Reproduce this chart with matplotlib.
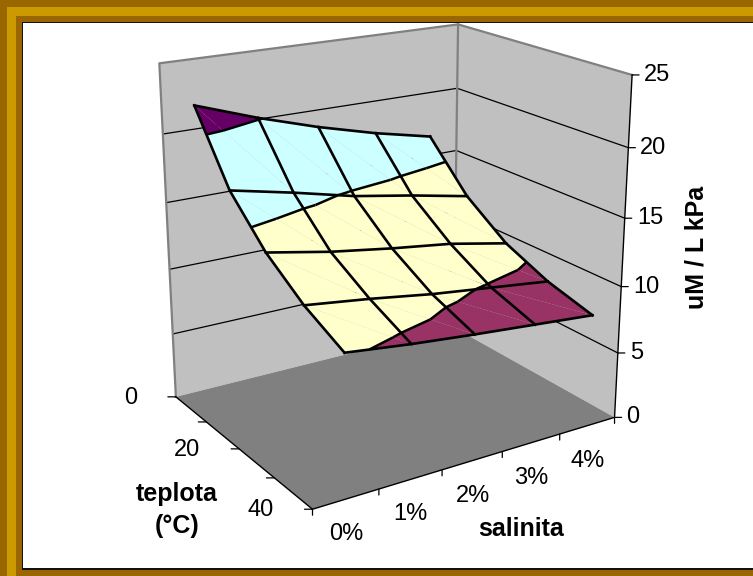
import numpy as np
import matplotlib
matplotlib.use('Agg')
import matplotlib.pyplot as plt
from matplotlib.patches import Rectangle
from mpl_toolkits.mplot3d import proj3d
from mpl_toolkits.mplot3d.art3d import Poly3DCollection, Line3DCollection

plt.rcParams['font.family'] = ['Liberation Sans', 'DejaVu Sans']

# salinity in %, temperature in deg C, uM / L kPa
salinity = [0, 1, 2, 3, 4]
salinity_labels = ['0%', '1%', '2%', '3%', '4%']
temperature = [0, 10, 20, 30, 40]
temperature_labels = ['0', '', '20', '', '40']
values = [
    [21.7, 20.1, 18.7, 17.5, 16.5],
    [16.8, 15.8, 14.7, 13.9, 13.0],
    [13.8, 12.9, 12.2, 11.6, 10.7],
    [11.7, 11.1, 10.4, 9.85, 9.3],
    [10.2, 9.65, 9.2, 8.8, 8.4],
]
z_ticks = [0, 5, 10, 15, 20, 25]
band_colors = {(5, 10): '#993366', (10, 15): '#FFFFCC', (15, 20): '#CCFFFF', (20, 25): '#660066'}

W, H = 753, 576
fig = plt.figure(figsize=(W / 100, H / 100), dpi=100, facecolor='#996600')


def frame_rect(x0, y0, x1, y1, color):
    fig.patches.append(Rectangle((x0 / W, 1 - y1 / H), (x1 - x0) / W, (y1 - y0) / H,
                                 transform=fig.transFigure, facecolor=color, edgecolor='none'))


# picture frame, the right side is cut off in the original
frame_rect(7, 7, W, 576, '#CC9900')
frame_rect(16, 16, W, 576, '#996600')
frame_rect(22, 22, W, 570, '#111111')
frame_rect(23, 23, W, 568, 'white')

ax = fig.add_axes([0, 0, 561 / W, 561 / H], projection='3d', computed_zorder=False)
ax.set_zorder(5)
ax.set_axis_off()
ax.patch.set_visible(False)
x0, x1 = salinity[0] - 0.5, salinity[-1] + 0.5
t0, t1 = temperature[0], temperature[-1]
z0, z1 = z_ticks[0], z_ticks[-1]
ax.set_xlim(x0, x1)
ax.set_ylim(t1, t0)
ax.set_zlim(z0, z1)
ax.view_init(elev=19.25, azim=-122.682)
ax.set_proj_type('persp', focal_length=0.517)
ax.set_box_aspect((1, 0.808, 1.004))

# place the axes so the projected box lands where it is in the original
scale, ox, oy = 3047.45, 392.04, 244.32
p0, p1 = ax.transData.transform([(0, 0), (1, 1)])
size = 561 * scale / (p1 - p0)[0]
left = ox - p0[0] * size / 561
bottom = (H - oy) - p0[1] * size / 561
ax.set_position([left / W, bottom / H, size / W, size / H])

M = ax.get_proj()


def screen(x, t, z):
    u, v, _ = proj3d.proj_transform(x, t, z, M)
    return float(u), float(v)


def tick(x, t, z, dx, dy):
    ax.annotate('', xy=screen(x, t, z), xytext=(dx, dy), textcoords='offset pixels',
                arrowprops=dict(arrowstyle='-', color='black', lw=0.9, shrinkA=0, shrinkB=0))


def label(x, t, z, dx, dy, s, ha):
    ax.annotate(s, xy=screen(x, t, z), xytext=(dx, dy), textcoords='offset pixels',
                ha=ha, va='center', fontsize=17, color='black')


# walls and floor
wall_left = [(x0, t0, z0), (x1, t0, z0), (x1, t0, z1), (x0, t0, z1)]
wall_right = [(x1, t0, z0), (x1, t1, z0), (x1, t1, z1), (x1, t0, z1)]
floor = [(x0, t0, z0), (x0, t1, z0), (x1, t1, z0), (x1, t0, z0)]
ax.add_collection3d(Poly3DCollection([wall_left, wall_right], facecolors='#C0C0C0',
                                     edgecolors='none', zorder=1))
ax.add_collection3d(Poly3DCollection([floor], facecolors='#808080', edgecolors='none', zorder=2))

for z in z_ticks[1:-1]:
    ax.plot([x0, x1, x1], [t0, t0, t1], [z, z, z], color='black', lw=0.9, zorder=3)
ax.plot([x0, x0, x1, x1], [t0, t0, t0, t1], [z0, z1, z1, z1], color='#808080', lw=1.6, zorder=3)
ax.plot([x1, x1], [t0, t0], [z0, z1], color='#808080', lw=1.6, zorder=3)
ax.plot([x0, x0, x1, x1], [t0, t1, t1, t1], [z0, z0, z0, z1], color='black', lw=1.0, zorder=4)


# surface, split into triangles and clipped to the colour bands
def clip(poly, level, keep_above):
    out = []
    for a, b in zip(poly, poly[1:] + poly[:1]):
        a_in = a[2] >= level if keep_above else a[2] <= level
        b_in = b[2] >= level if keep_above else b[2] <= level
        if a_in:
            out.append(a)
        if a_in != b_in:
            f = (level - a[2]) / (b[2] - a[2])
            out.append((a[0] + f * (b[0] - a[0]), a[1] + f * (b[1] - a[1]), level))
    return out


triangles = []
for j in range(len(temperature) - 1):
    for i in range(len(salinity) - 1):
        c00 = (salinity[i], temperature[j], values[j][i])
        c10 = (salinity[i + 1], temperature[j], values[j][i + 1])
        c01 = (salinity[i], temperature[j + 1], values[j + 1][i])
        c11 = (salinity[i + 1], temperature[j + 1], values[j + 1][i + 1])
        triangles.append([c00, c10, c11])
        triangles.append([c00, c11, c01])

for (lo, hi), color in band_colors.items():
    polys = []
    for tri in triangles:
        p = clip(tri, lo, True)
        if p:
            p = clip(p, hi, False)
        if len(p) >= 3:
            polys.append(p)
    ax.add_collection3d(Poly3DCollection(polys, facecolors=color, edgecolors='none', zorder=5))

# contour lines between the bands
segments = []
for level in z_ticks[1:-1]:
    for tri in triangles:
        pts = []
        for a, b in zip(tri, tri[1:] + tri[:1]):
            if (a[2] - level) * (b[2] - level) < 0:
                f = (level - a[2]) / (b[2] - a[2])
                pts.append((a[0] + f * (b[0] - a[0]), a[1] + f * (b[1] - a[1]), level))
        if len(pts) == 2:
            segments.append(pts)
ax.add_collection3d(Line3DCollection(segments, colors='black', linewidths=1.8, zorder=6))

# mesh lines
for j, t in enumerate(temperature):
    ax.plot(salinity, [t] * len(salinity), values[j], color='black', lw=1.9, zorder=7)
for i, s in enumerate(salinity):
    ax.plot([s] * len(temperature), temperature, [row[i] for row in values],
            color='black', lw=1.9, zorder=7)

# ticks and tick labels
for z in z_ticks:
    tick(x1, t1, z, 7, 0)
    label(x1, t1, z, 12, 0, str(z), 'left')
for t, s in zip(temperature, temperature_labels):
    tick(x0, t, z0, -8, 0)
    if s:
        label(x0, t, z0, -39, -1, s, 'right')
for k in range(len(salinity) + 1):
    tick(x0 + k, t1, z0, 0, -6)
for s, text in zip(salinity, salinity_labels):
    label(s, t1, z0, 0, -35, text, 'center')

# axis titles
fig.text(177 / W, 1 - 510 / H, 'teplota\n(°C)', ha='center', va='center', fontsize=18,
         fontweight='bold', linespacing=1.4)
fig.text(521 / W, 1 - 529 / H, 'salinita', ha='center', va='center', fontsize=18,
         fontweight='bold')
fig.text(697 / W, 1 - 247 / H, 'uM / L kPa', ha='center', va='center', rotation=90,
         fontsize=18, fontweight='bold')

fig.savefig('out.png', dpi=100, facecolor=fig.get_facecolor())
